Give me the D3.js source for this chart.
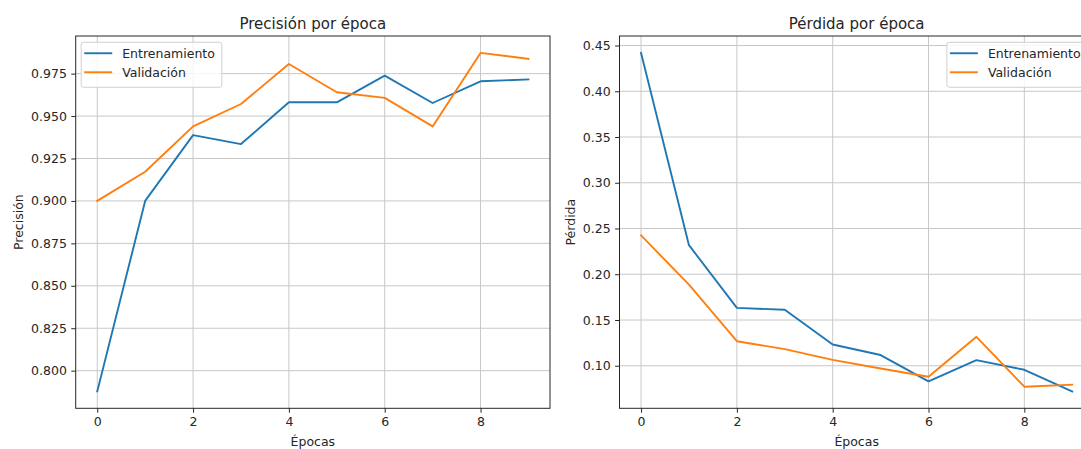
<!DOCTYPE html>
<html>
<head>
<meta charset="utf-8">
<script src="https://cdn.jsdelivr.net/npm/d3@7"></script>
<style>
  html, body { margin: 0; padding: 0; background: #fff; overflow: hidden; }
  svg { display: block; }
  text { font-family: "DejaVu Sans", sans-serif; fill: #262626; }
</style>
</head>
<body>
<svg id="chart" width="1081" height="449"></svg>
<script>
// ---------- data ----------
const epochs = [0, 1, 2, 3, 4, 5, 6, 7, 8, 9];
const trainAcc = [0.7878, 0.9000, 0.9388, 0.9335, 0.9581, 0.9581, 0.9738, 0.9577, 0.9705, 0.9716];
const valAcc   = [0.9000, 0.9172, 0.9439, 0.9571, 0.9807, 0.9640, 0.9607, 0.9439, 0.9872, 0.9837];
const trainLoss = [0.4419, 0.2318, 0.1633, 0.1612, 0.1232, 0.1117, 0.0829, 0.1062, 0.0956, 0.0720];
const valLoss   = [0.2425, 0.1886, 0.1268, 0.1182, 0.1065, 0.0970, 0.0880, 0.1316, 0.0771, 0.0793];
const epochTicks = [0, 2, 4, 6, 8];
const accTicks = [0.800, 0.825, 0.850, 0.875, 0.900, 0.925, 0.950, 0.975];
const lossTicks = [0.10, 0.15, 0.20, 0.25, 0.30, 0.35, 0.40, 0.45];
const seriesNames = ["Entrenamiento", "Validación"];
const colors = ["#1f77b4", "#ff7f0e"];

const panels = [
  { title: "Precisión por época", ylabel: "Precisión", series: [trainAcc, valAcc],
    ticks: accTicks, fmt: d3.format(".3f"), left: 75.7, legend: "left" },
  { title: "Pérdida por época", ylabel: "Pérdida", series: [trainLoss, valLoss],
    ticks: lossTicks, fmt: d3.format(".2f"), left: 619.5, legend: "right" }
];

const svg = d3.select("#chart");
const plotTop = 36, plotBottom = 408.3, plotWidth = 474.3;
const fs = 12.5;

panels.forEach(p => {
  const g = svg.append("g");
  const x = d3.scaleLinear()
    .domain([d3.min(epochs) - 0.05 * (d3.max(epochs) - d3.min(epochs)),
             d3.max(epochs) + 0.05 * (d3.max(epochs) - d3.min(epochs))])
    .range([p.left, p.left + plotWidth]);
  const all = p.series.flat();
  const lo = d3.min(all), hi = d3.max(all), r = hi - lo;
  const y = d3.scaleLinear().domain([lo - 0.05 * r, hi + 0.05 * r]).range([plotBottom, plotTop]);

  // grid
  const grid = g.append("g").attr("stroke", "#c8c8c8").attr("stroke-width", 1);
  epochTicks.forEach(t => grid.append("line")
    .attr("x1", x(t)).attr("x2", x(t)).attr("y1", plotTop).attr("y2", plotBottom));
  p.ticks.forEach(t => grid.append("line")
    .attr("x1", p.left).attr("x2", p.left + plotWidth).attr("y1", y(t)).attr("y2", y(t)));

  // lines
  const line = d3.line().x((d, i) => x(epochs[i])).y(d => y(d));
  p.series.forEach((s, k) => {
    g.append("path").datum(s).attr("d", line)
      .attr("fill", "none").attr("stroke", colors[k])
      .attr("stroke-width", 1.9).attr("stroke-linejoin", "round").attr("stroke-linecap", "square");
  });

  // axes
  const xAxis = d3.axisBottom(x).tickValues(epochTicks).tickFormat(d3.format("d"))
    .tickSizeInner(4.4).tickSizeOuter(0).tickPadding(4.4);
  const yAxis = d3.axisLeft(y).tickValues(p.ticks).tickFormat(p.fmt)
    .tickSizeInner(4.4).tickSizeOuter(0).tickPadding(4.4);
  const gx = g.append("g").attr("transform", `translate(0,${plotBottom})`).call(xAxis);
  const gy = g.append("g").attr("transform", `translate(${p.left},0)`).call(yAxis);
  [gx, gy].forEach(a => {
    a.select(".domain").remove();
    a.selectAll(".tick line").attr("stroke", "#262626").attr("stroke-width", 1);
    a.selectAll(".tick text").attr("font-size", fs).attr("font-family", "DejaVu Sans").attr("fill", "#262626");
  });
  const maxTickW = d3.max(gy.selectAll(".tick text").nodes(), n => n.getComputedTextLength());

  // spines
  g.append("rect").attr("x", p.left).attr("y", plotTop).attr("width", plotWidth).attr("height", plotBottom - plotTop)
    .attr("fill", "none").attr("stroke", "#262626").attr("stroke-width", 1);

  // title and labels
  g.append("text").attr("x", p.left + plotWidth / 2).attr("y", 28.5)
    .attr("text-anchor", "middle").attr("font-size", 15).text(p.title);
  g.append("text").attr("x", p.left + plotWidth / 2).attr("y", 446)
    .attr("text-anchor", "middle").attr("font-size", fs).text("Épocas");
  const ylx = p.left - 8.8 - maxTickW - 8;
  g.append("text").attr("transform", `translate(${ylx},${(plotTop + plotBottom) / 2}) rotate(-90)`)
    .attr("text-anchor", "middle").attr("font-size", fs).text(p.ylabel);

  // legend
  const lg = g.append("g");
  const frame = lg.append("rect");
  const texts = seriesNames.map((n, k) => lg.append("text").attr("font-size", fs).text(n));
  const tw = d3.max(texts, t => t.node().getComputedTextLength());
  const bw = 3 + 28 + 10 + tw + 7, bh = 45;
  const bx = p.legend === "left" ? p.left + 5.5 : p.left + plotWidth - 6.25 - bw;
  const by = plotTop + 6.25;
  frame.attr("x", bx).attr("y", by).attr("width", bw).attr("height", bh).attr("rx", 2.5)
    .attr("fill", "#fff").attr("fill-opacity", 0.8).attr("stroke", "#d0d0d0").attr("stroke-width", 1);
  seriesNames.forEach((n, k) => {
    const cy = by + 11 + k * 19;
    lg.append("line").attr("x1", bx + 3).attr("x2", bx + 31).attr("y1", cy).attr("y2", cy)
      .attr("stroke", colors[k]).attr("stroke-width", 1.9);
    texts[k].attr("x", bx + 41).attr("y", cy + 4.5);
  });
});
</script>
</body>
</html>
